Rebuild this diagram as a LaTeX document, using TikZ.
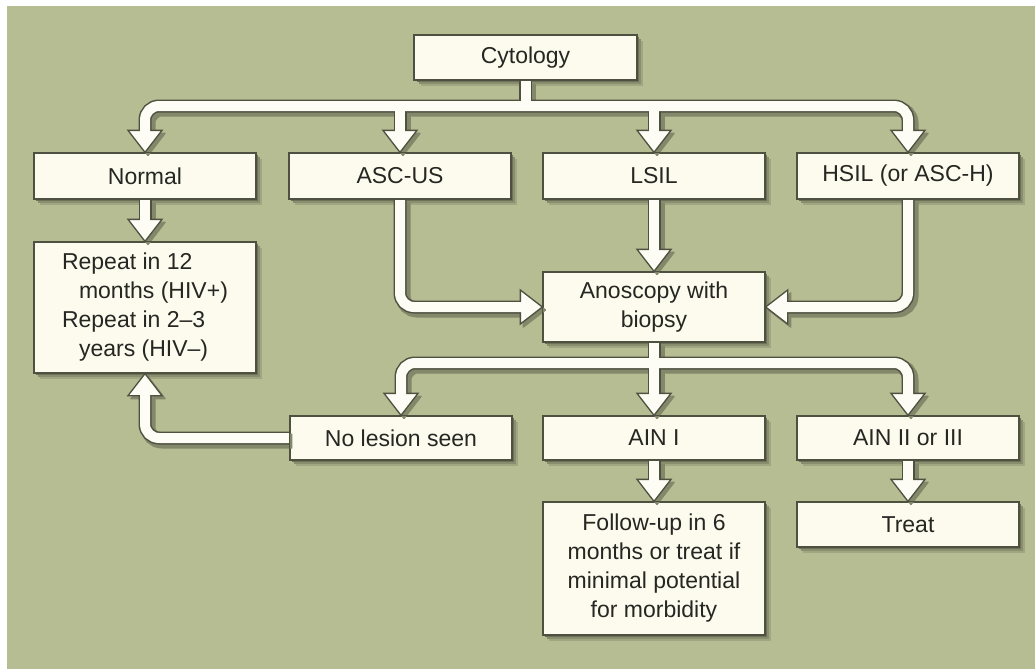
\documentclass[tikz,border=0pt]{standalone}
\usepackage{fontspec}
\setmainfont{Liberation Sans}
\usetikzlibrary{shadows,calc}
\definecolor{bg}{RGB}{182,189,147}
\definecolor{cream}{RGB}{252,251,238}
\definecolor{arrowfill}{RGB}{253,253,246}
\definecolor{edge}{RGB}{78,80,64}
\definecolor{ink}{RGB}{38,38,34}
\newcommand\allshafts[2]{%
  \pgfmathsetmacro\hdist{22-#2}%
  \draw[#1] (cyto.south) -- (cyto.south |- topbar);
  \draw[#1] ($(normal.north)+(0,-\hdist)$) -- (normal.north |- topbar) -- (hsil.north |- topbar) -- ($(hsil.north)+(0,-\hdist)$);
  \draw[#1] (ascus.north |- topbar) -- ($(ascus.north)+(0,-\hdist)$);
  \draw[#1] (lsil.north |- topbar) -- ($(lsil.north)+(0,-\hdist)$);
  \draw[#1] (normal.south) -- ($(repeat.north)+(0,-\hdist)$);
  \draw[#1] (ascus.south) |- ($(anos.west)+(-\hdist,0)$);
  \draw[#1] (lsil.south) -- ($(anos.north)+(0,-\hdist)$);
  \draw[#1] (hsil.south) |- ($(anos.east)+(\hdist,0)$);
  \draw[#1] (anos.south) -- (anos.south |- botbar);
  \draw[#1] ($(nolesion.north)+(0,-\hdist)$) -- (nolesion.north |- botbar) -- (ain23.north |- botbar) -- ($(ain23.north)+(0,-\hdist)$);
  \draw[#1] (anos.south |- botbar) -- ($(ain1.north)+(0,-\hdist)$);
  \draw[#1] (nolesion.west) -| ($(repeat.south)+(0,\hdist)$);
  \draw[#1] (ain1.south) -- ($(follow.north)+(0,-\hdist)$);
  \draw[#1] (ain23.south) -- ($(treat.north)+(0,-\hdist)$);
}
\newcommand\headD[2]{\filldraw[#1] (#2) -- ++(-17,-22) -- ++(34,0) -- cycle;}
\newcommand\headU[2]{\filldraw[#1] (#2) -- ++(-17,22) -- ++(34,0) -- cycle;}
\newcommand\headR[2]{\filldraw[#1] (#2) -- ++(-22,-17) -- ++(0,34) -- cycle;}
\newcommand\headL[2]{\filldraw[#1] (#2) -- ++(22,-17) -- ++(0,34) -- cycle;}
\newcommand\allheads[1]{%
  \headD{#1}{normal.north}\headD{#1}{ascus.north}\headD{#1}{lsil.north}\headD{#1}{hsil.north}%
  \headD{#1}{repeat.north}\headR{#1}{anos.west}\headD{#1}{anos.north}\headL{#1}{anos.east}%
  \headD{#1}{nolesion.north}\headD{#1}{ain1.north}\headD{#1}{ain23.north}%
  \headU{#1}{repeat.south}\headD{#1}{follow.north}\headD{#1}{treat.north}%
}
\begin{document}
\begin{tikzpicture}[x=1pt,y=-1pt,
  box/.style={fill=cream, draw=edge, line width=1.3pt, minimum width=222pt, inner sep=0pt,
    align=center, text=ink, font=\fontsize{23}{29}\selectfont,
    drop shadow={shadow xshift=6pt, shadow yshift=-6pt, fill=bg!88!black, draw=none, opacity=1},
    drop shadow={shadow xshift=4pt, shadow yshift=-4pt, fill=bg!75!black, draw=none, opacity=1},
    drop shadow={shadow xshift=2pt, shadow yshift=-2pt, fill=bg!60!black, draw=none, opacity=1}},
  frame/.style={draw=edge, line width=1.3pt},
  shaftshadow/.style={draw=bg!72!black, line width=15pt, rounded corners=14pt},
  headshadow/.style={fill=bg!72!black, draw=bg!72!black, line width=1.5pt, line join=round},
  shaftout/.style={draw=edge, line width=13pt, rounded corners=14pt},
  shaftin/.style={draw=arrowfill, line width=10pt, rounded corners=14pt},
  headst/.style={fill=arrowfill, draw=edge, line width=1.3pt, line join=miter}
]
\fill[white] (0,0) rectangle (1035,669);
\fill[bg] (7,6) rectangle (1035,669);
\coordinate (topbar) at (0,106);
\coordinate (botbar) at (0,363);

\node[box, minimum height=45pt] (cyto) at (525.5,57.5) {Cytology};
\node[box, minimum height=46pt] (normal) at (145,176) {Normal};
\node[box, minimum height=46pt] (ascus) at (400,176) {ASC-US};
\node[box, minimum height=46pt] (lsil) at (654,176) {LSIL};
\node[box, minimum height=46pt] (hsil) at (908,176) {HSIL (or ASC-H)};
\node[box, minimum height=131pt, align=left] (repeat) at (145,307.5)
  {Repeat in 12\\\hspace*{17pt}months (HIV+)\\Repeat in 2–3\\\hspace*{17pt}years (HIV–)};
\node[box, minimum height=70pt] (anos) at (654,307) {Anoscopy with\\biopsy};
\node[box, minimum height=44pt] (nolesion) at (401,438) {No lesion seen};
\node[box, minimum height=44pt] (ain1) at (654,438) {AIN I};
\node[box, minimum height=44pt] (ain23) at (908,438) {AIN II or III};
\node[box, minimum height=133pt] (follow) at (654,568.5)
  {Follow-up in 6\\months or treat if\\minimal potential\\for morbidity};
\node[box, minimum height=45pt] (treat) at (908,524.5) {Treat};

\begin{scope}[transform canvas={shift={(3pt,-3pt)}}]
  \allshafts{shaftshadow}{0}
  \allheads{headshadow}
\end{scope}
\allshafts{shaftout}{0}
\allheads{headst}
\allshafts{shaftin}{4}

\foreach \n in {cyto,normal,ascus,lsil,hsil,repeat,anos,nolesion,ain1,ain23,follow,treat}
  \draw[frame] (\n.south west) rectangle (\n.north east);
\end{tikzpicture}
\end{document}
